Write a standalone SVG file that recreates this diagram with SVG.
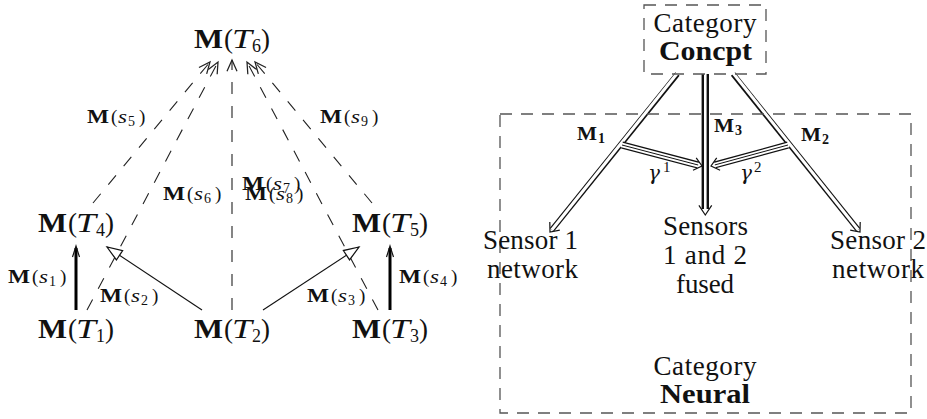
<svg xmlns="http://www.w3.org/2000/svg" width="927" height="419" viewBox="0 0 927 419">
<style>
text{font-family:"Liberation Serif","Times New Roman",serif;fill:#111}
.big{font-size:27px}
.sm{font-size:19px}
.rt{font-size:27px}
.b{font-weight:bold}
.i{font-style:italic}
.g{font-family:"DejaVu Serif",serif;font-style:italic}
.dl{stroke:#222;stroke-width:1.1;stroke-dasharray:12 12;fill:none}
.sl{stroke:#111;stroke-width:1.1;fill:none}
.thick{stroke:#000;stroke-width:3;fill:none}
.hd{stroke:#111;stroke-width:1.2;fill:none}
.box{stroke:#555;stroke-width:1.3;stroke-dasharray:12 9;fill:none}
.dblk{stroke:#111;stroke-width:5.4;fill:none}
.dwht{stroke:#fff;stroke-width:3;fill:none}
.tblk{stroke:#111;stroke-width:7;fill:none}
.twht{stroke:#fff;stroke-width:4.6;fill:none}
.tmid{stroke:#111;stroke-width:1;fill:none}
</style>
<defs>
<marker id="vh" markerUnits="userSpaceOnUse" markerWidth="20" markerHeight="20" refX="0" refY="0" viewBox="-12 -8 14 16" orient="auto">
<path d="M-9,-4 L0,0 L-9,4" fill="none" stroke="#222" stroke-width="1"/>
</marker>
<marker id="tri" markerUnits="userSpaceOnUse" markerWidth="20" markerHeight="20" refX="0" refY="0" viewBox="-14 -8 16 16" orient="auto">
<path d="M0,0 L-12,-4.5 L-12,4.5 Z" fill="#fff" stroke="#111" stroke-width="1"/>
</marker>
</defs>

<g id="connectors">
<line class="dl" x1="93" y1="203" x2="210" y2="62" marker-end="url(#vh)"/>
<line class="dl" x1="87" y1="310" x2="218" y2="62" marker-end="url(#vh)"/>
<line class="dl" x1="232" y1="310" x2="232" y2="60" marker-end="url(#vh)"/>
<line class="dl" x1="378" y1="310" x2="247" y2="62" marker-end="url(#vh)"/>
<line class="dl" x1="372" y1="203" x2="255" y2="62" marker-end="url(#vh)"/>
<line class="sl" x1="202" y1="310" x2="107" y2="247" marker-end="url(#tri)"/>
<line class="sl" x1="263" y1="310" x2="359" y2="247" marker-end="url(#tri)"/>
<line class="thick" x1="76" y1="310" x2="76" y2="248"/>
<path class="hd" d="M72.5,257 L76,246 L79.5,257"/>
<line class="thick" x1="390" y1="310" x2="390" y2="248"/>
<path class="hd" d="M386.5,257 L390,246 L393.5,257"/>

<text class="sm" y="283"><tspan x="8" class="b" textLength="22" lengthAdjust="spacingAndGlyphs">M</tspan><tspan x="32">(</tspan><tspan x="39" class="i" textLength="9" lengthAdjust="spacingAndGlyphs">s</tspan><tspan x="49" dy="3" font-size="14">1</tspan><tspan x="60" dy="-3">)</tspan></text>
<text class="sm" y="302"><tspan x="100" class="b" textLength="22" lengthAdjust="spacingAndGlyphs">M</tspan><tspan x="124">(</tspan><tspan x="131" class="i" textLength="9" lengthAdjust="spacingAndGlyphs">s</tspan><tspan x="141" dy="3" font-size="14">2</tspan><tspan x="152" dy="-3">)</tspan></text>
<text class="sm" y="302"><tspan x="307" class="b" textLength="22" lengthAdjust="spacingAndGlyphs">M</tspan><tspan x="331">(</tspan><tspan x="338" class="i" textLength="9" lengthAdjust="spacingAndGlyphs">s</tspan><tspan x="348" dy="3" font-size="14">3</tspan><tspan x="359" dy="-3">)</tspan></text>
<text class="sm" y="283"><tspan x="399" class="b" textLength="22" lengthAdjust="spacingAndGlyphs">M</tspan><tspan x="423">(</tspan><tspan x="430" class="i" textLength="9" lengthAdjust="spacingAndGlyphs">s</tspan><tspan x="440" dy="3" font-size="14">4</tspan><tspan x="451" dy="-3">)</tspan></text>
<text class="sm" y="123"><tspan x="87" class="b" textLength="22" lengthAdjust="spacingAndGlyphs">M</tspan><tspan x="111">(</tspan><tspan x="118" class="i" textLength="9" lengthAdjust="spacingAndGlyphs">s</tspan><tspan x="128" dy="3" font-size="14">5</tspan><tspan x="139" dy="-3">)</tspan></text>
<text class="sm" y="200"><tspan x="163" class="b" textLength="22" lengthAdjust="spacingAndGlyphs">M</tspan><tspan x="187">(</tspan><tspan x="194" class="i" textLength="9" lengthAdjust="spacingAndGlyphs">s</tspan><tspan x="204" dy="3" font-size="14">6</tspan><tspan x="215" dy="-3">)</tspan></text>
<text class="sm" y="190"><tspan x="242" class="b" textLength="22" lengthAdjust="spacingAndGlyphs">M</tspan><tspan x="266">(</tspan><tspan x="273" class="i" textLength="9" lengthAdjust="spacingAndGlyphs">s</tspan><tspan x="283" dy="3" font-size="14">7</tspan><tspan x="294" dy="-3">)</tspan></text>
<text class="sm" y="200"><tspan x="245" class="b" textLength="22" lengthAdjust="spacingAndGlyphs">M</tspan><tspan x="269">(</tspan><tspan x="276" class="i" textLength="9" lengthAdjust="spacingAndGlyphs">s</tspan><tspan x="286" dy="3" font-size="14">8</tspan><tspan x="297" dy="-3">)</tspan></text>
<text class="sm" y="123"><tspan x="320" class="b" textLength="22" lengthAdjust="spacingAndGlyphs">M</tspan><tspan x="344">(</tspan><tspan x="351" class="i" textLength="9" lengthAdjust="spacingAndGlyphs">s</tspan><tspan x="361" dy="3" font-size="14">9</tspan><tspan x="372" dy="-3">)</tspan></text>

<path class="dblk" d="M677.5,74 L551.9,229.7"/>
<path class="dwht" d="M677.5,73 L551.9,229.7"/>
<path class="hd" d="M559.8,230.1 L550,232 L549.8,222"/>
<path class="dblk" d="M733,74 L858.1,229.7"/>
<path class="dwht" d="M733,73 L858.1,229.7"/>
<path class="hd" d="M860.2,222 L860,232 L850.2,230.1"/>
<path stroke="#111" stroke-width="7.4" fill="none" d="M705.3,74 L705.3,209"/>
<path stroke="#fff" stroke-width="2.6" fill="none" d="M705.3,73 L705.3,209.5"/>
<path class="hd" d="M698.9,205.3 L705.3,215 L711.7,205.3"/>
<path class="tblk" d="M622,145 L698.1,165"/>
<path class="twht" d="M621,144.7 L698.6,165.2"/>
<path class="tmid" d="M622,145 L698.1,165"/>
<path class="hd" d="M696.2,157.8 L702,166 L693,170.3"/>
<path class="tblk" d="M788,145 L714.9,164.9"/>
<path class="twht" d="M789,144.7 L714.4,165.1"/>
<path class="tmid" d="M788,145 L714.9,164.9"/>
<path class="hd" d="M720.1,170.2 L711,166 L716.7,157.8"/>

<text font-size="18" class="b" y="140"><tspan x="577" textLength="20" lengthAdjust="spacingAndGlyphs">M</tspan><tspan x="598" dy="3" font-size="14">1</tspan></text>
<text font-size="18" class="b" y="132"><tspan x="714" textLength="20" lengthAdjust="spacingAndGlyphs">M</tspan><tspan x="735" dy="3" font-size="14">3</tspan></text>
<text font-size="18" class="b" y="141"><tspan x="801" textLength="20" lengthAdjust="spacingAndGlyphs">M</tspan><tspan x="822" dy="3" font-size="14">2</tspan></text>
<text y="180"><tspan x="648" font-size="20" class="g">γ</tspan><tspan x="663" dy="-8" font-size="15">1</tspan></text>
<text y="180"><tspan x="740" font-size="20" class="g">γ</tspan><tspan x="754" dy="-8" font-size="15">2</tspan></text>
</g>

<g id="T6"><text class="big" y="48"><tspan x="194" class="b" textLength="29" lengthAdjust="spacingAndGlyphs">M</tspan><tspan x="224">(</tspan><tspan x="232" class="i" textLength="20" lengthAdjust="spacingAndGlyphs">T</tspan><tspan x="252" dy="4" font-size="18">6</tspan><tspan x="261" dy="-4">)</tspan></text></g>
<g id="T4"><text class="big" y="232"><tspan x="38" class="b" textLength="29" lengthAdjust="spacingAndGlyphs">M</tspan><tspan x="68">(</tspan><tspan x="76" class="i" textLength="20" lengthAdjust="spacingAndGlyphs">T</tspan><tspan x="96" dy="4" font-size="18">4</tspan><tspan x="105" dy="-4">)</tspan></text></g>
<g id="T5"><text class="big" y="232"><tspan x="352" class="b" textLength="29" lengthAdjust="spacingAndGlyphs">M</tspan><tspan x="382">(</tspan><tspan x="390" class="i" textLength="20" lengthAdjust="spacingAndGlyphs">T</tspan><tspan x="410" dy="4" font-size="18">5</tspan><tspan x="419" dy="-4">)</tspan></text></g>
<g id="T1"><text class="big" y="338"><tspan x="38" class="b" textLength="29" lengthAdjust="spacingAndGlyphs">M</tspan><tspan x="68">(</tspan><tspan x="76" class="i" textLength="20" lengthAdjust="spacingAndGlyphs">T</tspan><tspan x="96" dy="4" font-size="18">1</tspan><tspan x="105" dy="-4">)</tspan></text></g>
<g id="T2"><text class="big" y="338"><tspan x="194" class="b" textLength="29" lengthAdjust="spacingAndGlyphs">M</tspan><tspan x="224">(</tspan><tspan x="232" class="i" textLength="20" lengthAdjust="spacingAndGlyphs">T</tspan><tspan x="252" dy="4" font-size="18">2</tspan><tspan x="261" dy="-4">)</tspan></text></g>
<g id="T3"><text class="big" y="338"><tspan x="352" class="b" textLength="29" lengthAdjust="spacingAndGlyphs">M</tspan><tspan x="382">(</tspan><tspan x="390" class="i" textLength="20" lengthAdjust="spacingAndGlyphs">T</tspan><tspan x="410" dy="4" font-size="18">3</tspan><tspan x="419" dy="-4">)</tspan></text></g>

<g id="concept">
<rect class="box" x="644" y="5" width="122" height="69"/>
<text class="rt" x="653.5" y="32" textLength="103">Category</text>
<text class="rt b" x="659" y="60" textLength="93" lengthAdjust="spacingAndGlyphs">Concpt</text>
</g>
<g id="neural">
<rect class="box" x="500" y="114" width="411" height="299"/>
<text class="rt" x="653.5" y="375" textLength="103">Category</text>
<text class="rt b" x="660" y="403" textLength="90" lengthAdjust="spacingAndGlyphs">Neural</text>
</g>
<g id="sensor1">
<text class="rt" x="483" y="249" textLength="95">Sensor 1</text>
<text class="rt" x="487" y="278" textLength="91">network</text>
</g>
<g id="fused">
<text class="rt" x="663" y="235" textLength="85">Sensors</text>
<text class="rt" x="663" y="264" textLength="84">1 and 2</text>
<text class="rt" x="676" y="293" textLength="58">fused</text>
</g>
<g id="sensor2">
<text class="rt" x="830" y="249" textLength="96">Sensor 2</text>
<text class="rt" x="832" y="278" textLength="92">network</text>
</g>
</svg>
